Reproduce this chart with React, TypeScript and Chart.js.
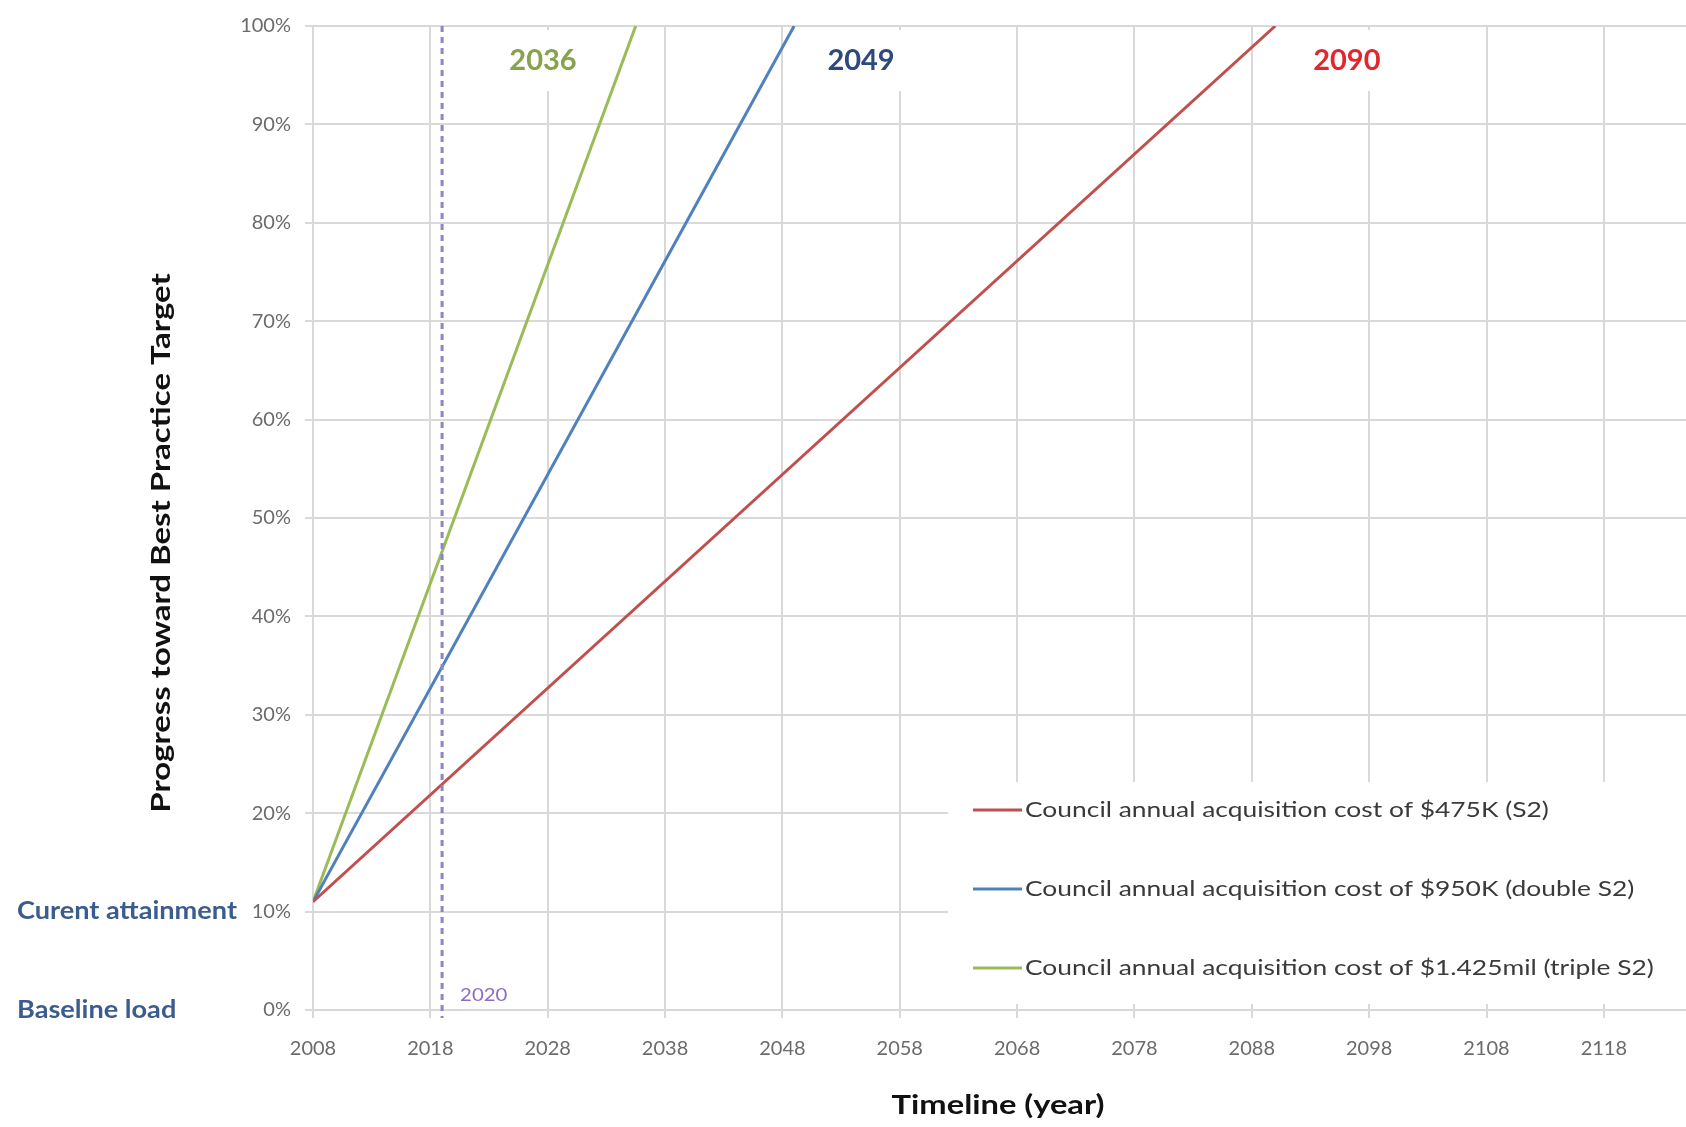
import React, { useEffect, useRef } from "react";
import { Chart, registerables } from "chart.js";

Chart.register(...registerables);

// ---- data ----
const startYear = 2008;
const startValues = [11, 11, 11];
const targetValue = 100;
const completionYears = [2090, 2049, 2035.5];
const completionLabels = ["2090", "2049", "2036"];
const completionLabelYears = [2096.1, 2054.7, 2027.6];
const seriesNames = [
  "Council annual acquisition cost of $475K (S2)",
  "Council annual acquisition cost of $950K (double S2)",
  "Council annual acquisition cost of $1.425mil (triple S2)",
];
const seriesColors = ["#C0504D", "#4F81BD", "#9BBB59"];
const labelColors = ["#E0282E", "#2E4A7C", "#87A24C"];
const xTicks = [2008, 2018, 2028, 2038, 2048, 2058, 2068, 2078, 2088, 2098, 2108, 2118];
const yTicks = [0, 10, 20, 30, 40, 50, 60, 70, 80, 90, 100];
const markerYear = 2019;
const markerLabel = "2020";
const sideLabelTexts = ["Curent attainment", "Baseline load"];
const sideLabelValues = [10, 0];
const xTitle = "Timeline (year)";
const yTitle = "Progress toward Best Practice Target";

const FONT = "Lato, 'Open Sans', sans-serif";

function stretchedText(ctx: CanvasRenderingContext2D, text: string, x: number, y: number, sx: number) {
  ctx.save();
  ctx.translate(x, y);
  ctx.scale(sx, 1);
  ctx.fillText(text, 0, 0);
  ctx.restore();
}

const overlayPlugin = {
  id: "overlay",
  beforeDatasetsDraw(chart: any) {
    const { ctx, chartArea } = chart;
    const x = chart.scales.x;
    const y = chart.scales.y;
    ctx.save();
    ctx.font = `bold 29px ${FONT}`;
    completionLabels.forEach((t, i) => {
      const cx = x.getPixelForValue(completionLabelYears[i]);
      const w = ctx.measureText(t).width + 22;
      const top = y.getPixelForValue(99.6);
      const bot = y.getPixelForValue(93.4);
      ctx.fillStyle = "#ffffff";
      ctx.fillRect(cx - w / 2, top, w, bot - top);
    });
    const lx = 948;
    const ltop = 782;
    const lbot = chartArea.bottom - 6;
    ctx.fillStyle = "#ffffff";
    ctx.fillRect(lx, ltop, chartArea.right - lx + 2, lbot - ltop);
    ctx.restore();
  },
  afterDatasetsDraw(chart: any) {
    const { ctx, chartArea } = chart;
    const x = chart.scales.x;
    const y = chart.scales.y;
    ctx.save();
    const mx = x.getPixelForValue(markerYear);
    ctx.strokeStyle = "#8C84C8";
    ctx.lineWidth = 3;
    ctx.setLineDash([6, 5]);
    ctx.beginPath();
    ctx.moveTo(mx, chartArea.top);
    ctx.lineTo(mx, chartArea.bottom + 8);
    ctx.stroke();
    ctx.setLineDash([]);
    ctx.font = `17px ${FONT}`;
    ctx.fillStyle = "#8A6CC4";
    ctx.textAlign = "left";
    ctx.textBaseline = "middle";
    stretchedText(ctx, markerLabel, mx + 18, y.getPixelForValue(1.5), 1.2);

    ctx.font = `bold 29px ${FONT}`;
    ctx.textAlign = "center";
    completionLabels.forEach((t, i) => {
      ctx.fillStyle = labelColors[i];
      ctx.fillText(t, x.getPixelForValue(completionLabelYears[i]), y.getPixelForValue(96.5));
    });

    const rows = [810, 889, 968];
    ctx.font = `22px ${FONT}`;
    ctx.textAlign = "left";
    seriesNames.forEach((n, i) => {
      ctx.strokeStyle = seriesColors[i];
      ctx.lineWidth = 3;
      ctx.beginPath();
      ctx.moveTo(973, rows[i]);
      ctx.lineTo(1022, rows[i]);
      ctx.stroke();
      ctx.fillStyle = "#3A3A3A";
      stretchedText(ctx, n, 1025, rows[i], 1.2);
    });

    ctx.font = `bold 24px ${FONT}`;
    ctx.fillStyle = "#3B5C8E";
    sideLabelTexts.forEach((t, i) => {
      stretchedText(ctx, t, 17, y.getPixelForValue(sideLabelValues[i]), 1.13);
    });

    ctx.fillStyle = "#111111";
    ctx.font = `bold 27px ${FONT}`;
    ctx.textAlign = "center";
    stretchedText(ctx, xTitle, 998, 1105, 1.21);
    ctx.translate(161, 543);
    ctx.rotate(-Math.PI / 2);
    stretchedText(ctx, yTitle, 0, 0, 1.22);
    ctx.restore();
  },
};

export default function App() {
  const ref = useRef<HTMLCanvasElement | null>(null);
  useEffect(() => {
    if (!ref.current) return;
    const datasets = seriesNames.map((name, i) => ({
      label: name,
      data: [
        { x: startYear, y: startValues[i] },
        { x: completionYears[i], y: targetValue },
      ],
      borderColor: seriesColors[i],
      backgroundColor: seriesColors[i],
      borderWidth: 3,
      pointRadius: 0,
      fill: false,
      tension: 0,
    }));
    const chart = new Chart(ref.current, {
      type: "line",
      data: { datasets },
      options: {
        animation: false,
        responsive: false,
        maintainAspectRatio: false,
        layout: { padding: { top: 19, left: 0, right: 0, bottom: 0 } },
        plugins: { legend: { display: false }, tooltip: { enabled: false } },
        scales: {
          x: {
            type: "linear",
            min: 2008,
            max: 2125,
            afterBuildTicks: (s: any) => {
              s.ticks = xTicks.map((v) => ({ value: v }));
            },
            afterFit: (s: any) => {
              s.height = 117;
            },
            grid: { color: "#D9D9D9", lineWidth: 2, tickLength: 8, drawTicks: true },
            border: { color: "#D9D9D9", width: 2 },
            ticks: {
              color: "#6B6B6B",
              font: { family: FONT, size: 20 },
              padding: 19,
              maxRotation: 0,
              callback: (v: any) => String(v),
            },
          },
          y: {
            type: "linear",
            min: 0,
            max: 100,
            afterBuildTicks: (s: any) => {
              s.ticks = yTicks.map((v) => ({ value: v }));
            },
            afterFit: (s: any) => {
              s.width = 313;
            },
            grid: { color: "#D9D9D9", lineWidth: 2, tickLength: 8, drawTicks: true },
            border: { color: "#D9D9D9", width: 2 },
            ticks: {
              color: "#6B6B6B",
              font: { family: FONT, size: 20 },
              padding: 14,
              callback: (v: any) => `${v}%`,
            },
          },
        },
      },
      plugins: [overlayPlugin],
    } as any);
    return () => chart.destroy();
  }, []);
  return (
    <div style={{ position: "fixed", left: 0, top: 0, width: 1686, height: 1127, background: "#fff" }}>
      <canvas ref={ref} width={1686} height={1127} style={{ display: "block" }} />
    </div>
  );
}
